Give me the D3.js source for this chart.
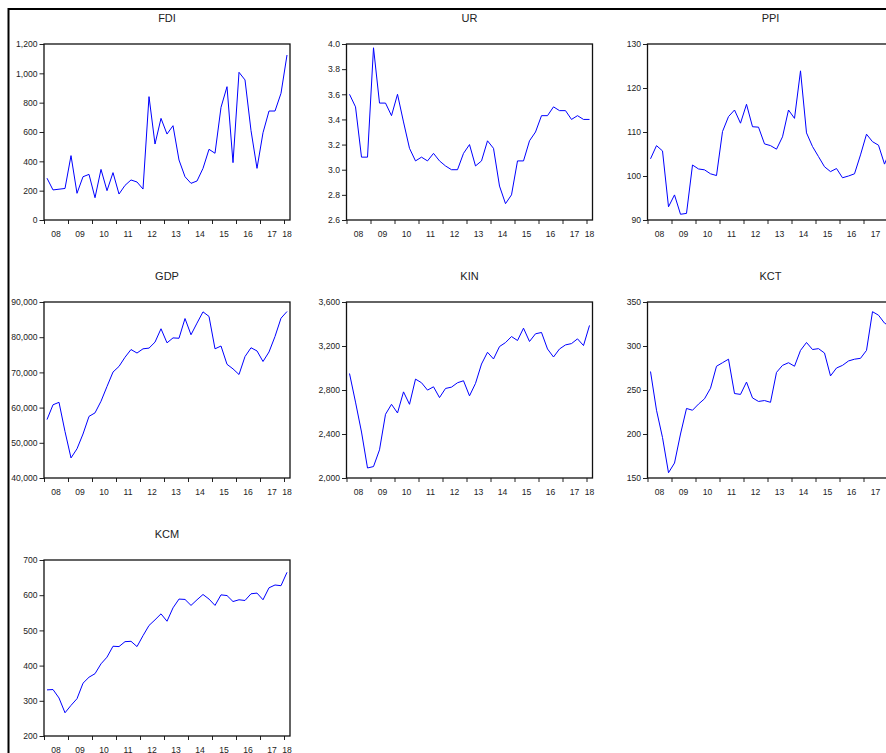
<!DOCTYPE html>
<html>
<head>
<meta charset="utf-8">
<script src="https://d3js.org/d3.v7.min.js"></script>
<style>
  html, body { margin: 0; padding: 0; background: #fff; overflow: hidden; }
  text { font-family: 'Liberation Sans', Arial, sans-serif; fill: #222; }
</style>
</head>
<body>
<div id="chart"></div>
<script>
// quarterly observations, 2008Q1 .. 2018Q1
const yearLabels = ['08', '09', '10', '11', '12', '13', '14', '15', '16', '17', '18'];

const fdi = [285, 205, 210, 215, 439, 182, 295, 311, 152, 345, 200, 323, 177, 236, 273, 259,
  211, 841, 518, 693, 586, 643, 409, 295, 250, 266, 352, 482, 455, 768, 909, 391,
  1007, 955, 610, 352, 595, 743, 743, 864, 1125];
const ur = [3.6, 3.5, 3.1, 3.1, 3.97, 3.53, 3.53, 3.43, 3.6, 3.38, 3.17, 3.07, 3.1, 3.07, 3.13, 3.07,
  3.03, 3.0, 3.0, 3.13, 3.2, 3.03, 3.07, 3.23, 3.17, 2.87, 2.73, 2.8, 3.07, 3.07, 3.23, 3.3,
  3.43, 3.43, 3.5, 3.47, 3.47, 3.4, 3.43, 3.4, 3.4];
const ppi = [103.9, 106.9, 105.7, 93.0, 95.7, 91.3, 91.5, 102.5, 101.6, 101.4, 100.5, 100.1, 110.1, 113.5, 115.0, 112.0,
  116.3, 111.2, 111.1, 107.3, 106.9, 106.1, 108.9, 115.0, 113.1, 123.9, 109.8, 106.7, 104.4, 102.1, 101.0, 101.7,
  99.6, 100.0, 100.5, 104.8, 109.5, 107.8, 107.0, 102.7, 106.0];
const gdp = [56600, 60800, 61500, 53200, 45700, 48300, 52500, 57500, 58500, 61800, 66000, 70100, 71700, 74300, 76500, 75500,
  76700, 76900, 78600, 82400, 78400, 79800, 79700, 85300, 80700, 84000, 87200, 85900, 76700, 77500, 72300, 71000,
  69400, 74500, 77000, 76100, 73100, 75800, 80200, 85400, 87300];
const kin = [2950, 2690, 2418, 2091, 2104, 2256, 2579, 2670, 2591, 2783, 2670, 2899, 2866, 2799, 2829, 2731,
  2814, 2826, 2866, 2884, 2747, 2860, 3036, 3143, 3082, 3195, 3231, 3286, 3250, 3362, 3241, 3311,
  3323, 3173, 3100, 3173, 3210, 3222, 3265, 3204, 3387];
const kct = [271, 227, 196, 156, 167, 200, 229, 227, 234, 240, 252, 277, 281, 285, 246, 245,
  259, 241, 237, 238, 236, 270, 278, 281, 277, 295, 304, 296, 297, 292, 266, 275,
  278, 283, 285, 286, 295, 339, 335, 326, 322];
const kcm = [331, 332, 308, 266, 287, 306, 350, 367, 377, 405, 424, 455, 454, 468, 469, 454,
  485, 514, 530, 547, 526, 564, 589, 588, 571, 587, 602, 589, 571, 601, 599, 582,
  587, 585, 604, 606, 587, 621, 629, 627, 665];

const fdiTicks = [0, 200, 400, 600, 800, 1000, 1200];
const urTicks = [2.6, 2.8, 3.0, 3.2, 3.4, 3.6, 3.8, 4.0];
const ppiTicks = [90, 100, 110, 120, 130];
const gdpTicks = [40000, 50000, 60000, 70000, 80000, 90000];
const kinTicks = [2000, 2400, 2800, 3200, 3600];
const kctTicks = [150, 200, 250, 300, 350];
const kcmTicks = [200, 300, 400, 500, 600, 700];

const panels = [
  { name: 'FDI', values: fdi, ticks: fdiTicks, fmt: d3.format(',') },
  { name: 'UR', values: ur, ticks: urTicks, fmt: d3.format('.1f') },
  { name: 'PPI', values: ppi, ticks: ppiTicks, fmt: d3.format('d') },
  { name: 'GDP', values: gdp, ticks: gdpTicks, fmt: d3.format(',') },
  { name: 'KIN', values: kin, ticks: kinTicks, fmt: d3.format(',') },
  { name: 'KCT', values: kct, ticks: kctTicks, fmt: d3.format('d') },
  { name: 'KCM', values: kcm, ticks: kcmTicks, fmt: d3.format('d') },
];

const viewW = 886;
const colLeft = [44, 346.5, 647.5];
const rowTop = [44, 302, 560];
const plotW = 246;
const plotH = 176;

const svg = d3.select('#chart')
  .append('svg')
  .attr('width', 960)
  .attr('height', 800);

// outer frame (extends past the visible window)
svg.append('rect')
  .attr('x', 8.5)
  .attr('y', 9)
  .attr('width', 1000)
  .attr('height', 1000)
  .style('fill', 'none')
  .style('stroke', '#000')
  .style('stroke-width', 2);

panels.forEach((p, k) => {
  const n = p.values.length;
  const left = colLeft[k % 3];
  const g = svg.append('g')
    .attr('transform', `translate(${left},${rowTop[Math.floor(k / 3)]})`);

  const x = d3.scaleLinear().domain([0, n]).range([0, plotW]);
  const y = d3.scaleLinear().domain(d3.extent(p.ticks)).range([plotH, 0]);

  // year boundaries and centred year labels
  const bounds = d3.range(0, n, 4);
  const xAxis = d3.axisBottom(x)
    .tickValues(bounds)
    .tickSize(4)
    .tickFormat('');
  g.append('g')
    .attr('transform', `translate(0,${plotH})`)
    .call(xAxis)
    .call((s) => s.select('.domain').remove())
    .call((s) => s.selectAll('line').style('stroke', '#222'));

  // labels that fall outside the window are not drawn (the page is cropped there)
  const labelled = bounds
    .map((b, i) => ({ pos: x((b + Math.min(b + 4, n)) / 2), label: yearLabels[i] }))
    .filter((d) => left + d.pos + 5 < viewW);

  g.selectAll('.year')
    .data(labelled)
    .enter()
    .append('text')
    .attr('class', 'year')
    .attr('x', (d) => d.pos)
    .attr('y', plotH + 16.5)
    .attr('text-anchor', 'middle')
    .style('font-size', '8.6px')
    .text((d) => d.label);

  const yAxis = d3.axisLeft(y)
    .tickValues(p.ticks)
    .tickSize(4.5)
    .tickPadding(2)
    .tickFormat(p.fmt);
  g.append('g')
    .call(yAxis)
    .call((s) => s.select('.domain').remove())
    .call((s) => s.selectAll('line').style('stroke', '#222'))
    .call((s) => s.selectAll('text')
      .style('font-family', "'Liberation Sans', Arial, sans-serif")
      .style('font-size', '8.6px')
      .style('fill', '#222'));

  // the series
  const line = d3.line()
    .x((d, i) => x(i + 0.5))
    .y((d) => y(d));
  g.append('path')
    .datum(p.values)
    .attr('d', line)
    .style('fill', 'none')
    .style('stroke', '#0000ff')
    .style('stroke-width', 1);

  g.append('rect')
    .attr('width', plotW)
    .attr('height', plotH)
    .style('fill', 'none')
    .style('stroke', '#111')
    .style('stroke-width', 1.3);

  g.append('text')
    .attr('x', plotW / 2)
    .attr('y', -22)
    .attr('text-anchor', 'middle')
    .style('font-size', '11px')
    .text(p.name);
});
</script>
</body>
</html>
